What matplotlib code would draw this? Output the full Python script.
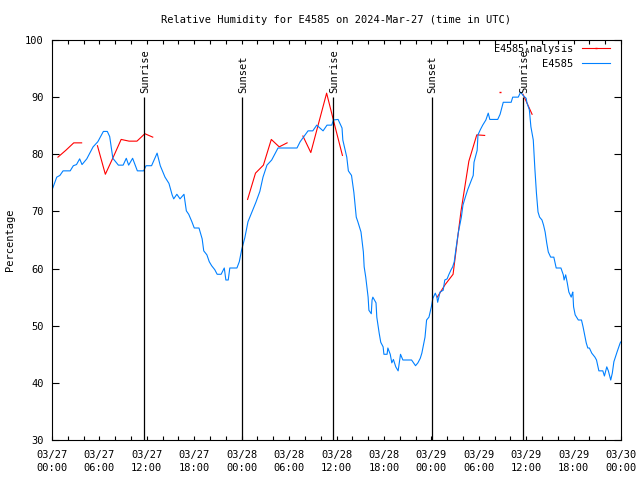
import numpy as np
import matplotlib
matplotlib.use("Agg")
import matplotlib.pyplot as plt
from matplotlib.ticker import MultipleLocator

# ###########################################################
# Data (hours since 03/27 00:00 UTC)
# ###########################################################

obs_hours = [
    0.1, 0.6, 1.0, 1.4, 2.3, 2.7, 3.1, 3.5, 3.8, 4.4, 5.2, 5.8, 6.5, 7.0, 7.3,
    7.7, 8.4, 9.0, 9.4, 9.7, 10.2, 10.8, 11.6, 11.9, 12.6, 13.3, 13.7, 14.3,
    14.8, 15.2, 15.4, 15.8, 16.2, 16.7, 17.0, 17.3, 17.7, 18.0, 18.6, 19.0,
    19.2, 19.6, 19.9, 20.2, 20.6, 20.9, 21.4, 21.8, 22.0, 22.3, 22.5, 23.4,
    23.7, 24.0, 24.4, 24.8, 25.3, 25.8, 26.3, 26.7, 27.2, 27.8, 28.6, 31.0,
    31.4, 32.4, 33.0, 33.5, 34.3, 34.8, 35.4, 35.6, 36.2, 36.7, 36.8, 37.3,
    37.5, 37.9, 38.2, 38.5, 38.7, 39.1, 39.4, 39.5, 39.7, 40.0, 40.1, 40.4,
    40.5, 40.6, 41.0, 41.1, 41.4, 41.6, 41.9, 42.0, 42.4, 42.5, 42.8, 43.0,
    43.2, 43.5, 43.8, 44.0, 44.1, 44.4, 45.5, 46.0, 46.3, 46.6, 46.8, 47.0,
    47.2, 47.4, 47.7, 48.0, 48.2, 48.5, 48.7, 48.8, 49.1, 49.5, 49.7, 50.0,
    50.2, 50.5, 50.7, 50.9, 51.1, 51.4, 51.8, 52.0, 52.3, 52.6, 53.0, 53.3,
    53.4, 53.8, 53.9, 54.2, 54.5, 54.9, 55.2, 55.4, 56.4, 56.7, 57.1, 58.1,
    58.3, 59.0, 59.3, 59.6, 60.0, 60.1, 60.4, 60.6, 60.9, 61.1, 61.3, 61.5,
    61.7, 62.0, 62.2, 62.4, 62.6, 62.8, 63.1, 63.5, 63.8, 64.4, 64.7, 64.8,
    65.0, 65.2, 65.4, 65.7, 65.8, 65.9, 66.0, 66.2, 66.6, 67.0, 67.2, 67.4,
    67.6, 67.8, 68.0, 68.3, 68.7, 68.9, 69.2, 69.7, 69.9, 70.2, 70.4, 70.7,
    70.9, 71.1, 71.5, 71.9, 72.0,
]
obs_rh = [
    74.1, 76.0, 76.3, 77.1, 77.1, 78.0, 78.2, 79.2, 78.2, 79.2, 81.3, 82.2,
    84.0, 84.0, 83.1, 79.3, 78.1, 78.1, 79.3, 78.1, 79.3, 77.1, 77.1, 78.0,
    78.0, 80.2, 78.0, 76.0, 74.9, 72.9, 72.2, 73.0, 72.2, 73.0, 70.1, 69.5,
    68.2, 67.1, 67.1, 65.2, 63.1, 62.4, 61.2, 60.5, 59.8, 59.0, 59.0, 60.1,
    58.0, 58.0, 60.1, 60.1, 61.2, 63.3, 65.4, 68.2, 69.9, 71.6, 73.5, 76.0,
    78.1, 79.0, 81.1, 81.1, 82.2, 84.1, 84.1, 85.1, 84.1, 85.1, 85.1, 86.0,
    86.1, 84.6, 82.5, 79.5, 77.1, 76.3, 73.3, 69.0, 68.2, 66.4, 62.9, 60.3,
    58.5, 55.0, 52.7, 52.1, 54.5, 55.0, 54.0, 51.5, 48.7, 47.1, 46.3, 45.0,
    45.0, 46.1, 45.0, 43.5, 44.1, 42.8, 42.1, 44.0, 45.0, 44.0, 44.0, 43.0,
    43.5, 44.3, 45.2, 46.6, 48.0, 51.0, 51.5, 53.3, 54.8, 55.7, 55.0, 54.1,
    55.9, 56.2, 58.0, 58.2, 58.9, 59.8, 60.3, 61.2, 63.3, 66.2, 69.0, 71.1,
    72.5, 73.8, 75.2, 76.3, 78.6, 80.7, 83.4, 84.3, 85.1, 86.0, 87.2, 86.1,
    86.1, 87.0, 89.1, 89.1, 90.0, 90.0, 90.9, 90.3, 89.8, 89.0, 87.8, 84.8,
    82.5, 77.5, 73.2, 69.9, 69.0, 68.5, 67.6, 66.4, 64.5, 62.9, 62.0, 62.0,
    60.1, 60.1, 58.9, 58.0, 58.9, 57.5, 55.9, 55.0, 55.5, 55.9, 53.3, 51.9,
    51.0, 51.0, 49.8, 48.4, 47.0, 46.1, 46.1, 45.2, 44.5, 44.0, 42.1, 42.1,
    41.2, 42.8, 42.1, 40.5, 41.7, 43.7, 45.4, 47.0, 47.2,
]

# hourly analysis, gaps are missing hours
ana_hours = [
    0.75, 1.75, 2.75, 3.75, 4.75, 5.75, 6.75, 7.75, 8.75, 9.75, 10.75, 11.75,
    12.75, 13.75, 24.75, 25.75, 26.75, 27.75, 28.75, 29.75, 30.75, 31.75,
    32.75, 33.75, 34.75, 35.75, 36.75, 37.75, 48.75, 49.75, 50.75, 51.75,
    52.75, 53.75, 54.75, 55.75, 56.75, 57.75, 59.6, 60.75,
]
ana_rh = [
    79.5, 80.7, 82.0, 82.0, np.nan, 81.5, 76.5, 79.5, 82.6, 82.3, 82.3, 83.6,
    83.0, np.nan, 72.1, 76.7, 78.1, 82.6, 81.3, 82.0, np.nan, 83.2,
    80.3, 85.5, 90.7, 85.2, 79.8, np.nan, 55.0, 57.2, 59.0, 70.0,
    78.8, 83.4, 83.3, np.nan, 90.9, np.nan, 90.5, 87.0,
]

sunrise_hours = [11.7, 35.6, 59.63]
sunset_hours = [24.08, 48.03]

tick_hours = [0, 6, 12, 18, 24, 30, 36, 42, 48, 54, 60, 66, 72]
tick_labels = [
    "03/27\n00:00", "03/27\n06:00", "03/27\n12:00", "03/27\n18:00",
    "03/28\n00:00", "03/28\n06:00", "03/28\n12:00", "03/28\n18:00",
    "03/29\n00:00", "03/29\n06:00", "03/29\n12:00", "03/29\n18:00",
    "03/30\n00:00",
]

# ###########################################################
# Plot
# ###########################################################

plt.rcParams["font.family"] = ["DejaVu Sans Mono"]
plt.rcParams["font.size"] = 7.5
plt.rcParams["mathtext.fontset"] = "custom"
plt.rcParams["mathtext.rm"] = "DejaVu Sans Mono"

fig = plt.figure(figsize=(6.4, 4.8), dpi=100)
ax = fig.add_axes([52 / 640, 40 / 480, 569 / 640, 400 / 480])

# isolated analysis hour drawn as a tiny dash
iso = [i for i in range(1, len(ana_rh) - 1)
       if np.isnan(ana_rh[i - 1]) and np.isnan(ana_rh[i + 1])]
ax.plot(ana_hours, ana_rh, color="#ff0000", lw=0.8,
        marker="_", markersize=2, markevery=iso,
        label="E4585$_{\\mathrm{A}}$nalysis")
ax.plot(obs_hours, obs_rh, color="#0080ff", lw=0.8, label="E4585")

for h in sunrise_hours:
    ax.vlines(h, 30, 90, color="black", lw=0.9)
    ax.text(h + 0.1, 90.8, "Sunrise", rotation=90, ha="center", va="bottom")
for h in sunset_hours:
    ax.vlines(h, 30, 90, color="black", lw=0.9)
    ax.text(h + 0.1, 90.8, "Sunset", rotation=90, ha="center", va="bottom")

ax.set_xlim(0, 72)
ax.set_ylim(30, 100)
ax.set_xticks(tick_hours)
ax.set_xticklabels(tick_labels)
for lab in ax.get_xticklabels():
    lab.set_linespacing(1.35)
ax.xaxis.set_minor_locator(MultipleLocator(2))
ax.set_yticks(np.arange(30, 101, 10))

ax.tick_params(axis="both", which="both", direction="in",
               top=True, right=True, width=0.8)
ax.tick_params(axis="x", which="both", length=3, pad=7)
ax.tick_params(axis="y", length=5, pad=6)
for s in ax.spines.values():
    s.set_linewidth(0.8)

ax.set_ylabel("Percentage", labelpad=7)
fig.text(336 / 640, 1 - 20 / 480,
         "Relative Humidity for E4585 on 2024-Mar-27 (time in UTC)",
         ha="center", va="center")

ax.legend(loc="upper right", bbox_to_anchor=(1 - 11 / 569, 1 - 2 / 400),
          frameon=False, markerfirst=False, borderaxespad=0, borderpad=0,
          handlelength=2.7, handletextpad=0.8, labelspacing=0.3)

fig.savefig("out.png", dpi=100)
